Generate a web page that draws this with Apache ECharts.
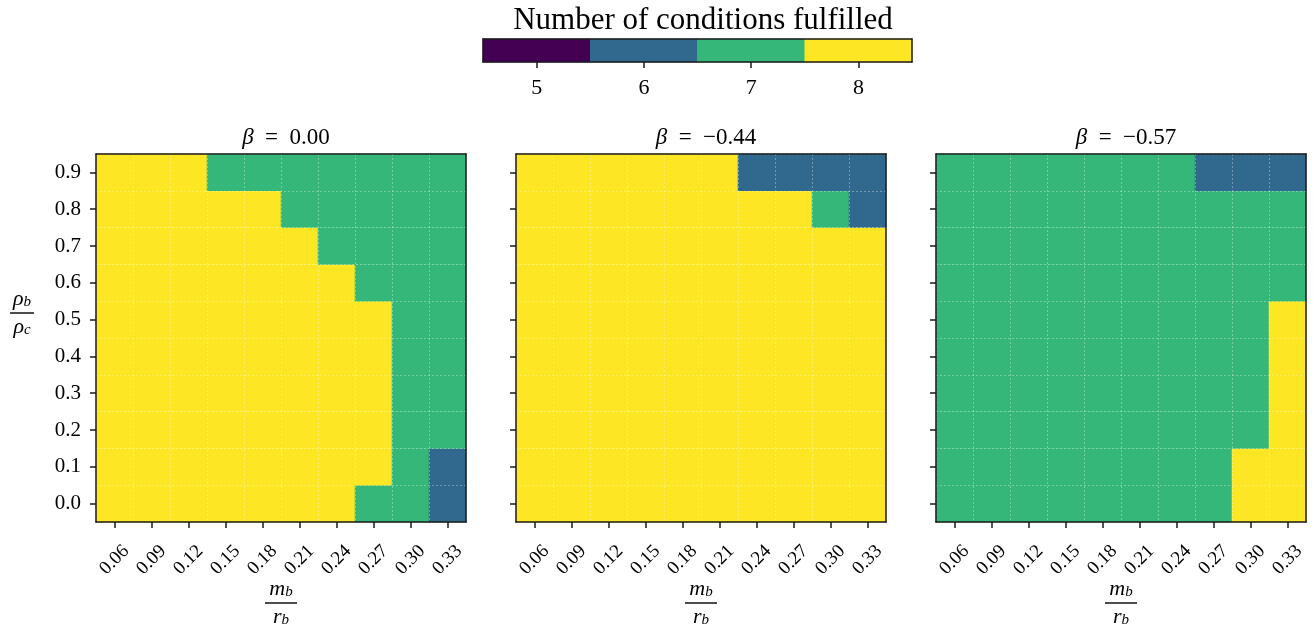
<!DOCTYPE html>
<html><head><meta charset="utf-8">
<script src="https://cdn.jsdelivr.net/npm/echarts@6/dist/echarts.min.js"></script>
<style>html,body{margin:0;padding:0;background:#fff}#c{width:1315px;height:633px}</style>
</head><body><div id="c"></div>
<script>
// ---- data ----
const xLabels = ['0.06','0.09','0.12','0.15','0.18','0.21','0.24','0.27','0.30','0.33'];
const yLabels = ['0.0','0.1','0.2','0.3','0.4','0.5','0.6','0.7','0.8','0.9'];
const betaTitles = ['0.00','\u22120.44','\u22120.57'];
const levels = [5,6,7,8];
const levelColors = ['#440154','#31688e','#35b779','#fde725'];
// rows listed from y = 0.0 (bottom) to y = 0.9 (top)
const panelBeta000 = [
  [8,8,8,8,8,8,8,7,7,6],
  [8,8,8,8,8,8,8,8,7,6],
  [8,8,8,8,8,8,8,8,7,7],
  [8,8,8,8,8,8,8,8,7,7],
  [8,8,8,8,8,8,8,8,7,7],
  [8,8,8,8,8,8,8,8,7,7],
  [8,8,8,8,8,8,8,7,7,7],
  [8,8,8,8,8,8,7,7,7,7],
  [8,8,8,8,8,7,7,7,7,7],
  [8,8,8,7,7,7,7,7,7,7]
];
const panelBeta044 = [
  [8,8,8,8,8,8,8,8,8,8],
  [8,8,8,8,8,8,8,8,8,8],
  [8,8,8,8,8,8,8,8,8,8],
  [8,8,8,8,8,8,8,8,8,8],
  [8,8,8,8,8,8,8,8,8,8],
  [8,8,8,8,8,8,8,8,8,8],
  [8,8,8,8,8,8,8,8,8,8],
  [8,8,8,8,8,8,8,8,8,8],
  [8,8,8,8,8,8,8,8,7,6],
  [8,8,8,8,8,8,6,6,6,6]
];
const panelBeta057 = [
  [7,7,7,7,7,7,7,7,8,8],
  [7,7,7,7,7,7,7,7,8,8],
  [7,7,7,7,7,7,7,7,7,8],
  [7,7,7,7,7,7,7,7,7,8],
  [7,7,7,7,7,7,7,7,7,8],
  [7,7,7,7,7,7,7,7,7,8],
  [7,7,7,7,7,7,7,7,7,7],
  [7,7,7,7,7,7,7,7,7,7],
  [7,7,7,7,7,7,7,7,7,7],
  [7,7,7,7,7,7,7,6,6,6]
];
const panels = [panelBeta000, panelBeta044, panelBeta057];

// ---- chart ----
const FONT = 'Liberation Serif';
const chart = echarts.init(document.getElementById('c'));
const panelLefts = [96, 516, 936];
const PW = 370, PT = 154, PH = 368;
const INK = '#1a1a1a';

function fracRich(barW) {
  return {
    n: {fontFamily: FONT, fontStyle: 'italic', fontSize: 22, color: '#000', lineHeight: 22},
    s: {fontFamily: FONT, fontStyle: 'italic', fontSize: 15, color: '#000', verticalAlign: 'bottom', lineHeight: 15, padding: [11,0,0,0]},
    bar: {width: barW, height: 1.4, backgroundColor: '#000', lineHeight: 6}
  };
}

const grids = [], xAxes = [], yAxes = [], series = [], titles = [];
const frameLine = {show: true, lineStyle: {color: INK, width: 1.5}};
const gridLines = {show: true, lineStyle: {color: 'rgba(255,255,255,0.4)', width: 0.8, type: [2, 2]}};
panels.forEach((mat, p) => {
  grids.push({left: panelLefts[p], top: PT, width: PW, height: PH, outerBoundsMode: 'none', containLabel: false});
  xAxes.push({
    type: 'category', gridIndex: p, data: xLabels, position: 'bottom', z: 5,
    axisLine: frameLine,
    axisTick: {show: true, alignWithLabel: true, length: 6, lineStyle: {color: INK, width: 1.5}},
    axisLabel: {rotate: 45, fontFamily: FONT, fontSize: 19, color: '#000', margin: 38,
      align: 'center', verticalAlign: 'middle'},
    splitLine: gridLines,
    name: '{n|m}{s|b}\n{bar|}\n{n|r}{s|b}', nameLocation: 'middle', nameGap: 56,
    nameMoveOverlap: false,
    nameTextStyle: {rich: fracRich(32), align: 'center', verticalAlign: 'top'}
  });
  xAxes.push({
    type: 'category', gridIndex: p, data: xLabels, position: 'top', z: 5,
    axisLine: frameLine, axisTick: {show: false}, axisLabel: {show: false}, splitLine: {show: false}
  });
  yAxes.push({
    type: 'category', gridIndex: p, data: yLabels, position: 'left', z: 5,
    axisLine: frameLine,
    axisTick: {show: true, alignWithLabel: true, length: 6, lineStyle: {color: INK, width: 1.5}},
    axisLabel: {show: p === 0, fontFamily: FONT, fontSize: 21, color: '#000', margin: 15},
    splitLine: gridLines,
    name: p === 0 ? '{n|\u03C1}{s|b}\n{bar|}\n{n|\u03C1}{s|c}' : '',
    nameLocation: 'middle', nameRotate: 0, nameGap: 74,
    nameTextStyle: {rich: fracRich(24), align: 'center', padding: [0, 0, 50, 0]}
  });
  yAxes.push({
    type: 'category', gridIndex: p, data: yLabels, position: 'right', z: 5,
    axisLine: frameLine, axisTick: {show: false}, axisLabel: {show: false}, splitLine: {show: false}
  });
  const data = [];
  mat.forEach((row, yi) => row.forEach((v, xi) => data.push([xi, yi, v])));
  series.push({
    type: 'heatmap', xAxisIndex: 2 * p, yAxisIndex: 2 * p, data: data,
    emphasis: {disabled: true}, itemStyle: {borderWidth: 0}
  });
  titles.push({
    text: '{i|\u03B2}  =  ' + betaTitles[p],
    left: panelLefts[p] + PW / 2, top: 121, textAlign: 'center',
    textStyle: {fontFamily: FONT, fontSize: 23, fontWeight: 'normal', color: '#000',
      rich: {i: {fontFamily: FONT, fontStyle: 'italic', fontSize: 23, color: '#000'}}}
  });
});

// colorbar as a small heatmap grid
const cb = panels.length;
grids.push({left: 483, top: 39, width: 429, height: 23, outerBoundsMode: 'none', containLabel: false});
xAxes.push({
  type: 'category', gridIndex: cb, data: levels.map(String), position: 'bottom', z: 5,
  axisLine: frameLine,
  axisTick: {show: true, alignWithLabel: true, length: 6, lineStyle: {color: INK, width: 1.5}},
  axisLabel: {fontFamily: FONT, fontSize: 22, color: '#000', margin: 15},
  splitLine: {show: false}
});
xAxes.push({
  type: 'category', gridIndex: cb, data: levels.map(String), position: 'top', z: 5,
  axisLine: frameLine, axisTick: {show: false}, axisLabel: {show: false}
});
yAxes.push({type: 'category', gridIndex: cb, data: [''], position: 'left', z: 5,
  axisLine: frameLine, axisTick: {show: false}, axisLabel: {show: false}});
yAxes.push({type: 'category', gridIndex: cb, data: [''], position: 'right', z: 5,
  axisLine: frameLine, axisTick: {show: false}, axisLabel: {show: false}});
series.push({
  type: 'heatmap', xAxisIndex: 2 * cb, yAxisIndex: 2 * cb,
  data: levels.map((v, i) => [i, 0, v]), emphasis: {disabled: true}
});
titles.push({
  text: 'Number of conditions fulfilled', left: 698, top: 0, textAlign: 'center',
  textStyle: {fontFamily: FONT, fontSize: 31, fontWeight: 'normal', color: '#000'}
});

chart.setOption({
  animation: false,
  backgroundColor: '#fff',
  title: titles,
  grid: grids,
  xAxis: xAxes,
  yAxis: yAxes,
  visualMap: {
    type: 'piecewise', show: false, dimension: 2,
    pieces: levels.map((v, i) => ({value: v, color: levelColors[i]}))
  },
  series: series
});
</script></body></html>
